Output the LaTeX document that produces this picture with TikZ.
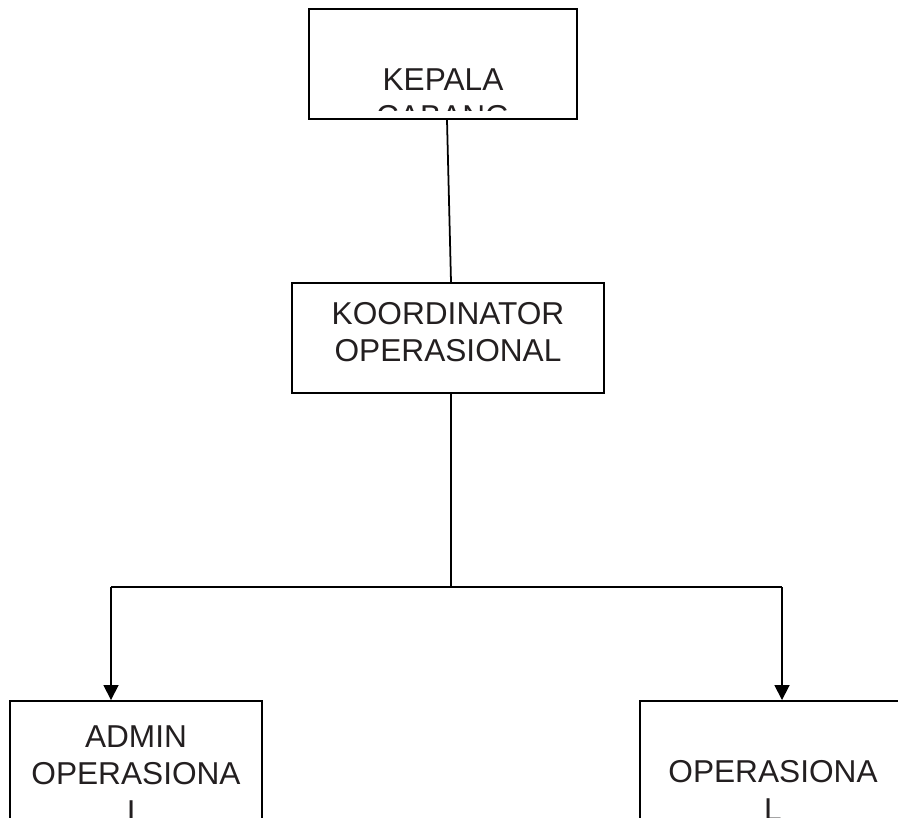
\documentclass[tikz,border=0pt]{standalone}
\usepackage{fontspec}
\setmainfont{Liberation Sans}
\usetikzlibrary{arrows.meta, calc}
\definecolor{tinta}{RGB}{35,31,32}

\begin{document}
\begin{tikzpicture}[
        kotak/.style={draw, line width=1.1pt, inner sep=0, minimum height=2.2cm},
        teks/.style={align=center, inner sep=0, anchor=base, text=tinta, font=\fontsize{18}{21.3}\selectfont},
        garis/.style={line width=1pt},
        panah/.style={line width=1pt, -{Triangle[width=8.5pt, length=8.5pt]}}
    ]
    \useasboundingbox (0,0) rectangle (17.96,-16.34);
    \clip (0,0) rectangle (17.96,-16.34);

    \node[kotak, minimum width=5.36cm] (kc) at (8.86,-1.28) {};
    \node[kotak, minimum width=6.24cm] (ko) at (8.96,-6.76) {};
    \node[kotak, minimum width=5.04cm, minimum height=3cm] (ao) at (2.72,-15.52) {};
    \node[kotak, minimum width=5.32cm, minimum height=3cm] (op) at (15.46,-15.52) {};

    \begin{scope}
        \clip ([yshift=0.18cm]kc.south west) rectangle (kc.north east);
        \node[teks] (kc-teks) at ([yshift=-2.39cm]kc.north) {KEPALA\\CABANG};
    \end{scope}
    \node[teks] (ko-teks) at ([yshift=-1.59cm]ko.north) {KOORDINATOR\\OPERASIONAL};
    \begin{scope}
        \clip (ao.south west) rectangle (ao.north east);
        \node[teks] (ao-teks) at ([yshift=-2.44cm]ao.north) {ADMIN\\OPERASIONA\\L};
    \end{scope}
    \begin{scope}
        \clip (op.south west) rectangle (op.north east);
        \node[teks] (op-teks) at ([yshift=-2.40cm]op.north) {OPERASIONA\\L};
    \end{scope}

    \coordinate (cabang) at (9.02,-11.74);
    \coordinate (kiri) at (2.22,-11.74);
    \coordinate (kanan) at (15.64,-11.74);

    \draw[garis] ([xshift=0.08cm]kc.south) -- (cabang |- ko.north);
    \draw[garis] (cabang |- ko.south) -- (cabang);
    \draw[garis] (kiri) -- (kanan);
    \draw[panah] (kiri) -- (kiri |- ao.north);
    \draw[panah] (kanan) -- (kanan |- op.north);
\end{tikzpicture}
\end{document}
